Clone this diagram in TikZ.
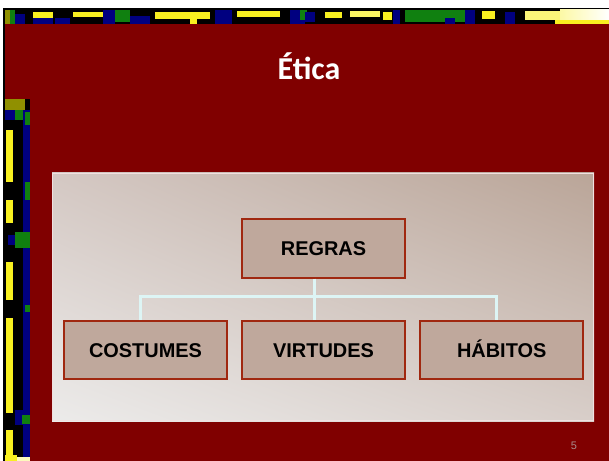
\documentclass[tikz,border=0pt]{standalone}
\usepackage{fontspec}
\setmainfont{Liberation Sans}
\newfontfamily\titlefont{Carlito}
\usetikzlibrary{positioning,shadings}
\definecolor{bgred}{HTML}{800000}
\definecolor{boxfill}{HTML}{BFA89C}
\definecolor{boxline}{HTML}{A02810}
\definecolor{connc}{HTML}{DDF5F5}
\definecolor{pyel}{HTML}{F8F020}
\definecolor{pgrn}{HTML}{108010}
\definecolor{pblu}{HTML}{000080}
\definecolor{poli}{HTML}{909000}
\definecolor{pnum}{HTML}{A88C8C}
\definecolor{pul}{RGB}{212,200,195}
\definecolor{pur}{RGB}{186,165,152}
\definecolor{pll}{RGB}{236,235,234}
\definecolor{plr}{RGB}{216,206,201}
\definecolor{pedge}{RGB}{240,224,224}
\tikzset{
  orgbox/.style={draw=boxline, line width=2bp, fill=boxfill, minimum width=163bp, minimum height=58bp, inner sep=0pt,
     text height=14.3bp, text depth=0bp,
     font=\fontsize{20}{24}\selectfont\bfseries, text=black},
  conn/.style={draw=connc, line width=3bp},
}
\newcommand{\blk}[5]{\fill[#5] (#1,#3) rectangle (#2,#4);}
\begin{document}
\begin{tikzpicture}[x=1bp,y=-1bp]
\useasboundingbox (0,0) rectangle (609,461);
\fill[white] (0,0) rectangle (609,461);
% red background
\fill[bgred] (3,8) rectangle (609,461);
% top strip base
\blk{3}{609}{8}{24}{black}
\blk{3}{5}{8}{461}{black}
% top blocks
\blk{5}{10}{10}{24}{poli}
\blk{10}{15}{10}{24}{pgrn}
\blk{15}{25}{14}{24}{pblu}
\blk{33}{53}{18}{24}{pblu}
\blk{33}{53}{12}{18}{pyel}
\blk{55}{70}{18}{24}{pblu}
\blk{73}{103}{12}{17}{pyel}
\blk{103}{115}{10}{24}{pblu}
\blk{115}{130}{10}{22}{pgrn}
\blk{130}{150}{16}{24}{pblu}
\blk{155}{210}{12}{19}{pyel}
\blk{190}{197}{19}{24}{pyel}
\blk{215}{232}{10}{24}{pblu}
\blk{237}{280}{11}{17}{pyel}
\blk{290}{305}{10}{24}{pblu}
\blk{300}{307}{10}{20}{pgrn}
\blk{305}{315}{12}{22}{pblu}
\blk{325}{342}{12}{18}{pyel}
\blk{350}{380}{11}{17}{pyel!70!white}
\blk{383}{392}{12}{20}{pyel}
\blk{393}{400}{10}{24}{pblu}
\blk{405}{465}{10}{22}{pgrn}
\blk{445}{455}{18}{24}{pblu}
\blk{465}{475}{10}{24}{pblu}
\blk{482}{495}{11}{19}{pyel}
\blk{505}{515}{12}{24}{pblu}
\blk{525}{560}{11}{20}{pyel!60!white}
\shade[left color=pyel!40!white, right color=white] (560,10) rectangle (609,20);
\blk{555}{609}{20}{24}{pyel}
% left strip
\blk{5}{30}{99}{461}{black}
\blk{5}{25}{99}{110}{poli}
\blk{5}{15}{110}{120}{pblu}
\blk{15}{25}{110}{120}{pgrn}
\blk{23}{30}{110}{461}{pblu}
\blk{25}{30}{112}{125}{pgrn}
\blk{6}{13}{130}{182}{pyel}
\blk{25}{30}{182}{200}{pgrn}
\blk{6}{13}{200}{223}{pyel}
\blk{8}{15}{235}{245}{pblu}
\blk{15}{30}{232}{248}{pgrn}
\blk{6}{13}{262}{300}{pyel}
\blk{25}{30}{305}{312}{pgrn}
\blk{6}{13}{318}{413}{pyel}
\blk{15}{23}{410}{425}{pblu}
\blk{22}{30}{415}{424}{pgrn}
\blk{6}{13}{430}{461}{pyel}
\blk{5}{17}{455}{461}{pyel}
\blk{17}{30}{457}{461}{pyel!30!white}
% title
\node[font=\titlefont\fontsize{32}{36}\selectfont\bfseries, text=white, anchor=base] (title) at (309,79.5) {Ética};
% panel
\shade[upper left=pul, upper right=pur, lower left=pll, lower right=plr] (52,173) rectangle (594,421);
\draw[draw=pedge, line width=1.2bp] (52.6,173.6) rectangle (593.4,420.4);
% boxes
\node[orgbox] (regras) at (323.5,248.5) {REGRAS};
\node[orgbox] (cost) at (145.5,350) {COSTUMES};
\node[orgbox] (virt) at (323.5,350) {VIRTUDES};
\node[orgbox] (hab) at (501.7,350) {HÁBITOS};
% connectors
\draw[conn] ([xshift=-9.5bp]regras.south) -- ([xshift=-9.5bp]virt.north);
\draw[conn] ([xshift=-5.5bp]cost.north) -- ++(0,-23) -| ([xshift=-5.5bp]hab.north);
% page number
\node[font=\fontsize{11}{12}\selectfont, text=pnum] (pnum) at (574,445.5) {5};
\end{tikzpicture}
\end{document}
